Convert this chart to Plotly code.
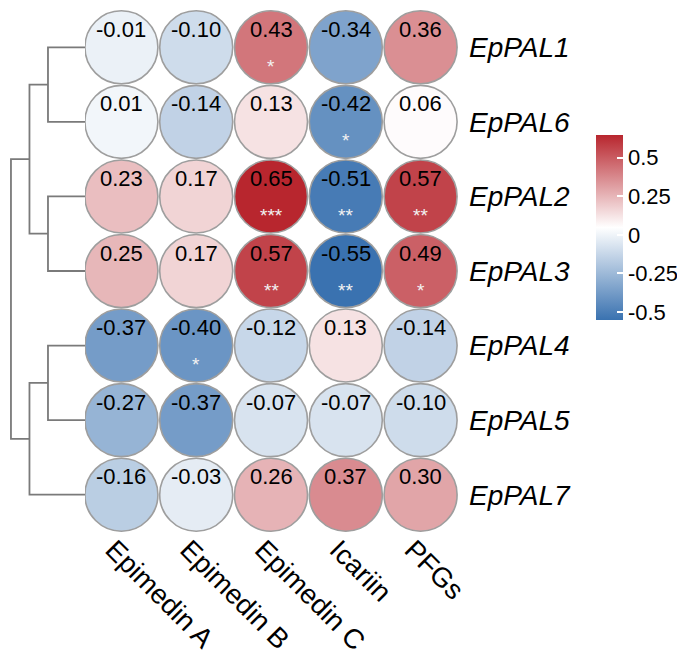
import plotly.graph_objects as go

genes = ["EpPAL1", "EpPAL6", "EpPAL2", "EpPAL3", "EpPAL4", "EpPAL5", "EpPAL7"]
compounds = ["Epimedin A", "Epimedin B", "Epimedin C", "Icariin", "PFGs"]
values = [
    [-0.01, -0.10, 0.43, -0.34, 0.36],
    [0.01, -0.14, 0.13, -0.42, 0.06],
    [0.23, 0.17, 0.65, -0.51, 0.57],
    [0.25, 0.17, 0.57, -0.55, 0.49],
    [-0.37, -0.40, -0.12, 0.13, -0.14],
    [-0.27, -0.37, -0.07, -0.07, -0.10],
    [-0.16, -0.03, 0.26, 0.37, 0.30],
]
stars = [
    ["", "", "*", "", ""],
    ["", "", "", "*", ""],
    ["", "", "***", "**", "**"],
    ["", "", "**", "**", "*"],
    ["", "*", "", "", ""],
    ["", "", "", "", ""],
    ["", "", "", "", ""],
]
# dendrogram merges (R hclust style): negative = leaf index (1-based), positive = earlier merge
merges = [(-1, -2, 0.5), (-3, -4, 0.5), (-5, -6, 0.5), (1, 2, 0.75), (3, -7, 0.75), (4, 5, 1.0)]
cbar_ticks = [-0.5, -0.25, 0, 0.25, 0.5]
cbar_text = ["-0.5", "-0.25", "0", "0.25", "0.5"]

FONT = "Liberation Sans, Arial, sans-serif"
W, H = 685, 661

xs, ys, cs = [], [], []
for i, row in enumerate(values):
    for j, v in enumerate(row):
        xs.append(j + 1)
        ys.append(i + 1)
        cs.append(v)

fig = go.Figure()
fig.add_trace(go.Scatter(
    x=xs, y=ys, mode="markers", cliponaxis=False, hoverinfo="skip",
    marker=dict(
        size=73, symbol="circle", color=cs, cmin=-0.55, cmax=0.65,
        colorscale=[[0, "#3A72B0"], [0.5, "#FFFFFF"], [1, "#B8262E"]],
        line=dict(color="#9E9E9E", width=1.6),
        showscale=True,
        colorbar=dict(
            xref="container", yref="container", x=588 / W, xanchor="left",
            y=(H - 277.5) / H, yanchor="middle", xpad=0, ypad=0,
            len=185, lenmode="pixels", thickness=27, outlinewidth=0,
            tickvals=cbar_ticks, ticktext=cbar_text, ticks="inside",
            ticklen=6, tickcolor="white", tickwidth=1.5,
            tickfont=dict(family=FONT, size=22, color="black"),
        ),
    ),
    showlegend=False,
))

annotations = []
for i, row in enumerate(values):
    for j, v in enumerate(row):
        annotations.append(dict(
            x=j + 1, y=i + 1, xref="x", yref="y", text=f"{v:.2f}", showarrow=False,
            yshift=18, font=dict(family=FONT, size=22, color="black"),
        ))
        if stars[i][j]:
            annotations.append(dict(
                x=j + 1, y=i + 1, xref="x", yref="y", text=stars[i][j], showarrow=False,
                yshift=-19, font=dict(family=FONT, size=19, color="#F2F2F2"),
            ))

# dendrogram
node_pos = {}
def pos(k):
    if k < 0:
        return (0.0, float(-k))
    return node_pos[k]
for idx, (a, b, h) in enumerate(merges, start=1):
    ha, ya = pos(a)
    hb, yb = pos(b)
    fig.add_trace(go.Scatter(
        x=[ha, h, h, hb], y=[ya, ya, yb, yb], mode="lines", xaxis="x2", yaxis="y",
        line=dict(color="#7A7A7A", width=1.8), hoverinfo="skip", showlegend=False,
        cliponaxis=False,
    ))
    node_pos[idx] = (h, (ya + yb) / 2)

fig.update_layout(
    width=W, height=H, margin=dict(l=0, r=0, t=2, b=137, autoexpand=False),
    paper_bgcolor="white", plot_bgcolor="white",
    font=dict(family=FONT),
    xaxis=dict(
        domain=[76 / W, 450 / W], range=[0.5, 5.5], tickvals=list(range(1, 6)),
        ticktext=compounds, tickangle=45, showgrid=False, zeroline=False,
        showline=False, ticks="", ticklen=0, ticklabelstandoff=-5, ticklabelshift=-8,
        automargin=False,
        tickfont=dict(family=FONT, size=27.5, color="black"),
    ),
    yaxis=dict(
        range=[7.5, 0.5], tickvals=list(range(1, 8)),
        ticktext=[f"<i>{g}</i>" for g in genes], side="right", anchor="x",
        showgrid=False, zeroline=False, showline=False, ticks="",
        ticklabelstandoff=10, automargin=False,
        tickfont=dict(family=FONT, size=28, color="black"),
    ),
    xaxis2=dict(
        domain=[0, 77 / W], range=[1.04, 0], anchor="y", showgrid=False,
        zeroline=False, showline=False, showticklabels=False, ticks="",
        automargin=False,
    ),
    annotations=annotations,
)

fig.write_html("out.html")
